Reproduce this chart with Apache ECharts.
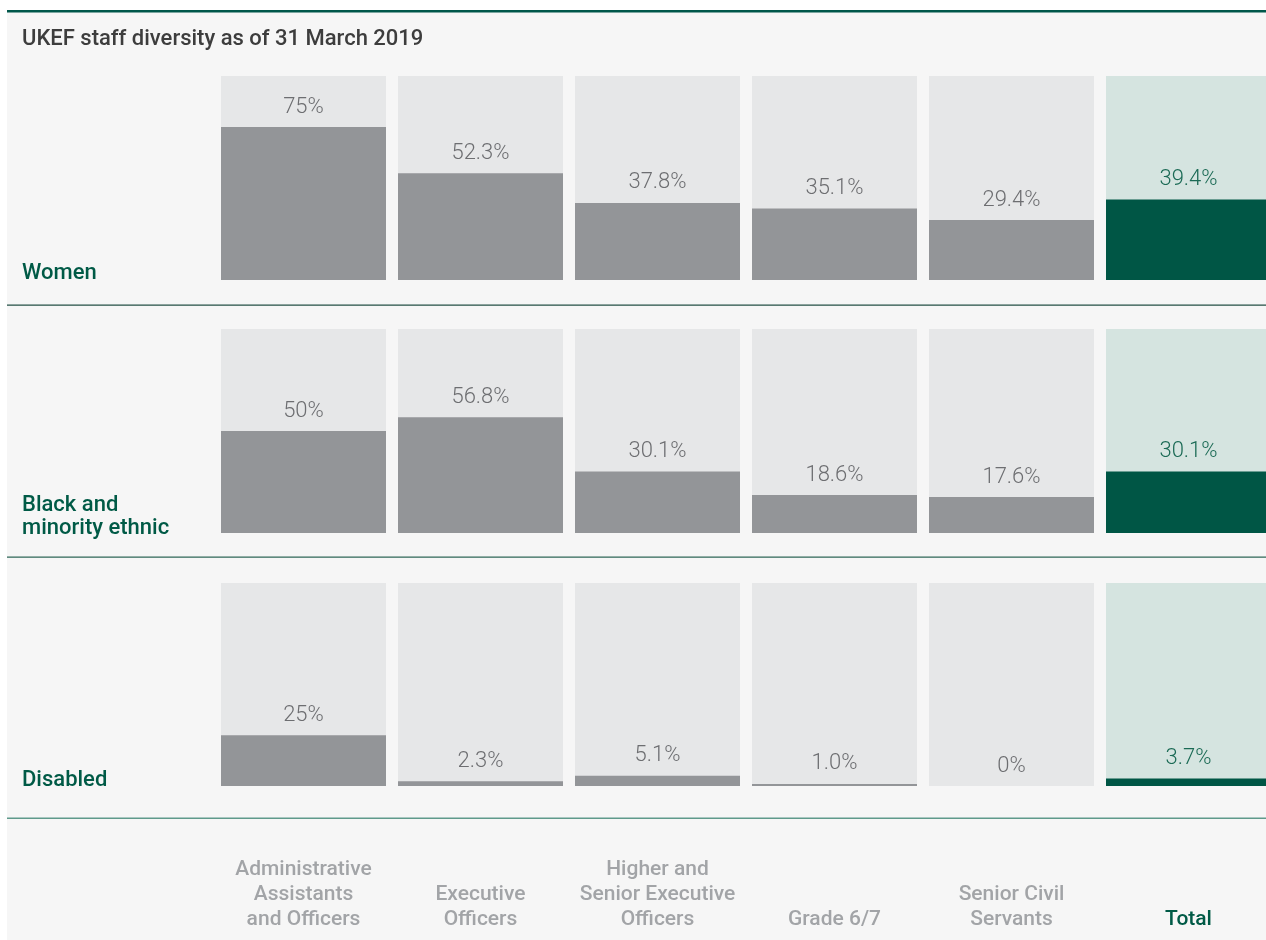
<!DOCTYPE html>
<html>
<head>
<meta charset="utf-8">
<title>UKEF staff diversity</title>
<script src="https://cdn.jsdelivr.net/npm/echarts@6/dist/echarts.min.js"></script>
<style>
  html, body { margin: 0; padding: 0; background: #ffffff; }
  #chart { width: 1266px; height: 940px; }
</style>
</head>
<body>
<div id="chart"></div>
<script>
// Staff grades shown along the bottom
var categories = [
  'Administrative\nAssistants\nand Officers',
  'Executive\nOfficers',
  'Higher and\nSenior Executive\nOfficers',
  'Grade 6/7',
  'Senior Civil\nServants',
  'Total'
];

// Share of staff (%) in each grade
var women = [75, 52.3, 37.8, 35.1, 29.4, 39.4];
var blackMinorityEthnic = [50, 56.8, 30.1, 18.6, 17.6, 30.1];
var disabled = [25, 2.3, 5.1, 1.0, 0, 3.7];

var rowNames = ['Women', 'Black and\nminority ethnic', 'Disabled'];

var FONT = 'Roboto, "Liberation Sans", Arial, sans-serif';
var GREEN = '#005a46';
var TOTAL_INDEX = categories.length - 1;

// Vertical placement of each panel
var panels = [
  { top: 76, height: 204, data: women, labelY: 273 },
  { top: 329, height: 204, data: blackMinorityEthnic, labelY: 517 },
  { top: 583, height: 203, data: disabled, labelY: 780 }
];

function formatPct(v) {
  // single-digit whole percentages keep one decimal place (e.g. 1.0%)
  if (v > 0 && v < 10 && v % 1 === 0) return v.toFixed(1) + '%';
  return v + '%';
}

var categoryLabelStyle = {
  fontFamily: FONT,
  fontSize: 21,
  fontWeight: 500,
  lineHeight: 25,
  verticalAlign: 'bottom',
  color: '#a2a4a7'
};

var grids = [], xAxes = [], yAxes = [], series = [];

panels.forEach(function (p, i) {
  grids.push({
    left: 215, width: 1062, top: p.top, height: p.height,
    outerBoundsMode: 'none', containLabel: false
  });
  var isLast = i === panels.length - 1;
  xAxes.push({
    type: 'category',
    gridIndex: i,
    data: categories.map(function (c, k) {
      return k === TOTAL_INDEX
        ? { value: c, textStyle: Object.assign({}, categoryLabelStyle, { color: GREEN }) }
        : c;
    }),
    show: isLast,
    axisLine: { show: false },
    axisTick: { show: false },
    axisLabel: Object.assign({ show: isLast, interval: 0, margin: 146 }, categoryLabelStyle)
  });
  yAxes.push({ type: 'value', gridIndex: i, min: 0, max: 100, show: false });

  // full-height backing bars
  series.push({
    type: 'bar',
    xAxisIndex: i,
    yAxisIndex: i,
    barWidth: 165,
    barGap: '-100%',
    silent: true,
    data: categories.map(function (c, k) {
      return {
        value: 100,
        itemStyle: { color: k === TOTAL_INDEX ? '#d5e4e0' : '#e6e7e8' }
      };
    })
  });

  // value bars with their percentage labels
  series.push({
    type: 'bar',
    xAxisIndex: i,
    yAxisIndex: i,
    barWidth: 165,
    barGap: '-100%',
    silent: true,
    data: p.data.map(function (v, k) {
      var total = k === TOTAL_INDEX;
      return {
        value: v,
        itemStyle: { color: total ? '#005645' : '#939598' },
        label: { color: total ? '#1b6a55' : '#6d6e71' }
      };
    }),
    label: {
      show: true,
      position: 'top',
      distance: 9,
      fontFamily: FONT,
      fontSize: 22,
      fontWeight: 300,
      formatter: function (params) { return formatPct(params.value); }
    }
  });
});

var graphics = [
  // panel background and top rule
  { type: 'rect', shape: { x: 7, y: 10, width: 1259, height: 930 }, style: { fill: '#f6f6f6' }, z: -10 },
  { type: 'rect', shape: { x: 7, y: 10, width: 1259, height: 2.5 }, style: { fill: '#00574a' }, z: -9 },
  // row separators
  { type: 'rect', shape: { x: 7, y: 304.5, width: 1259, height: 1.3 }, style: { fill: '#234f45' }, z: -9 },
  { type: 'rect', shape: { x: 7, y: 556.5, width: 1259, height: 1.3 }, style: { fill: '#2e6657' }, z: -9 },
  { type: 'rect', shape: { x: 7, y: 817.5, width: 1259, height: 1.5 }, style: { fill: '#5f9a8b' }, z: -9 }
];

panels.forEach(function (p, i) {
  graphics.push({
    type: 'text',
    x: 22,
    y: p.labelY,
    style: {
      text: rowNames[i],
      fill: GREEN,
      font: '500 22px ' + FONT,
      lineHeight: 23,
      verticalAlign: 'middle',
      align: 'left'
    }
  });
});

var chart = echarts.init(document.getElementById('chart'), null, { renderer: 'canvas' });
chart.setOption({
  animation: false,
  backgroundColor: 'transparent',
  title: {
    text: 'UKEF staff diversity as of 31 March 2019',
    left: 22,
    top: 28,
    padding: 0,
    textStyle: { fontFamily: FONT, fontSize: 22, fontWeight: 500, color: '#3d3d3d' }
  },
  grid: grids,
  xAxis: xAxes,
  yAxis: yAxes,
  series: series,
  graphic: graphics
});
</script>
</body>
</html>
